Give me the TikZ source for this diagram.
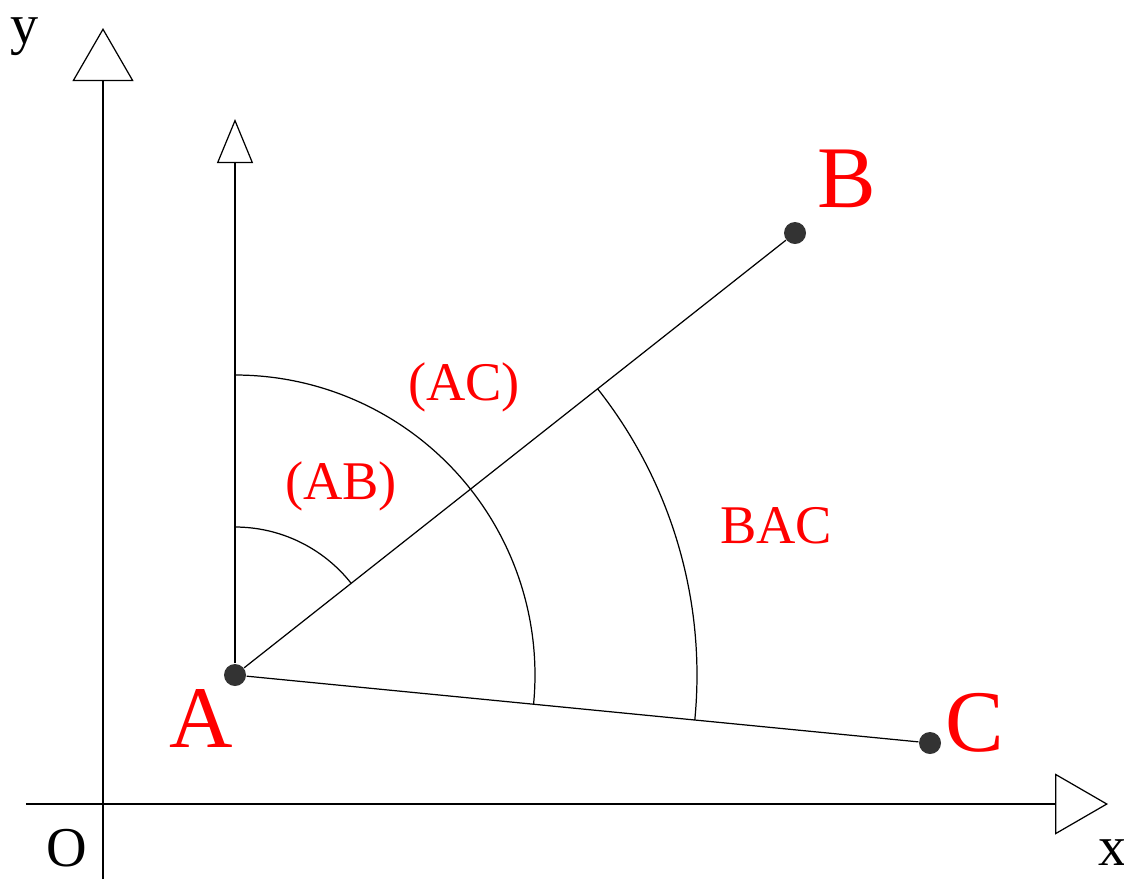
\documentclass[tikz,border=0pt]{standalone}
\usepackage{fontspec}
\setmainfont{Liberation Serif}
\usetikzlibrary{arrows.meta}

\begin{document}
\begin{tikzpicture}[line width=0.35pt,
  bigtip/.style={-{Triangle[open, length=5.3mm, width=6.1mm]}},
  smalltip/.style={-{Triangle[open, length=4.4mm, width=3.6mm]}},
  dot/.style={circle, fill=black!80, inner sep=0pt, minimum size=2.2mm},
  ptlabel/.style={text=red, font=\fontsize{25}{25}\selectfont, anchor=base},
  anglabel/.style={text=red, font=\fontsize{15.5}{15.5}\selectfont, anchor=base},
  axlabel/.style={font=\fontsize{16}{16}\selectfont, anchor=base, inner sep=0pt}]

\useasboundingbox (-1.03,-0.75) rectangle (10.21,8.04);

% Axes
\coordinate (ybot) at (0,-0.75);
\coordinate (ytop) at (0,7.76);
\coordinate (xleft) at (-0.77,0);
\coordinate (xright) at (10.05,0);
\draw[bigtip] (ybot) -- (ytop);
\draw[bigtip] (xleft) -- (xright);
\node[axlabel, text height=1ex] (ylab) at (-0.78,7.61) {y};
\node[axlabel] (xlab) at (10.1,-0.61) {x};
\node[axlabel] (olab) at (-0.36,-0.62) {O};

% Points
\node[dot] (A) at (1.32,1.29) {};
\node[dot] (B) at (6.92,5.71) {};
\node[dot] (C) at (8.27,0.61) {};
\coordinate (Atop) at (1.32,6.85);

\draw[smalltip] (A) -- (Atop);
\draw (A) -- (B);
\draw (A) -- (C);

\node[ptlabel] (Alab) at (0.98,0.57) {A};
\node[ptlabel] (Blab) at (7.44,5.97) {B};
\node[ptlabel] (Clab) at (8.72,0.53) {C};

% Angles
\draw (A.center) ++(90:1.48) arc[start angle=90, end angle=38.28, radius=1.48];
\draw (A.center) ++(90:3.00) arc[start angle=90, end angle=-5.59, radius=3.00];
\draw (A.center) ++(38.28:4.62) arc[start angle=38.28, end angle=-5.59, radius=4.62];

\node[anglabel] (ablab) at (2.38,3.05) {(AB)};
\node[anglabel] (aclab) at (3.61,4.04) {(AC)};
\node[anglabel] (baclab) at (6.73,2.61) {BAC};

\end{tikzpicture}
\end{document}
